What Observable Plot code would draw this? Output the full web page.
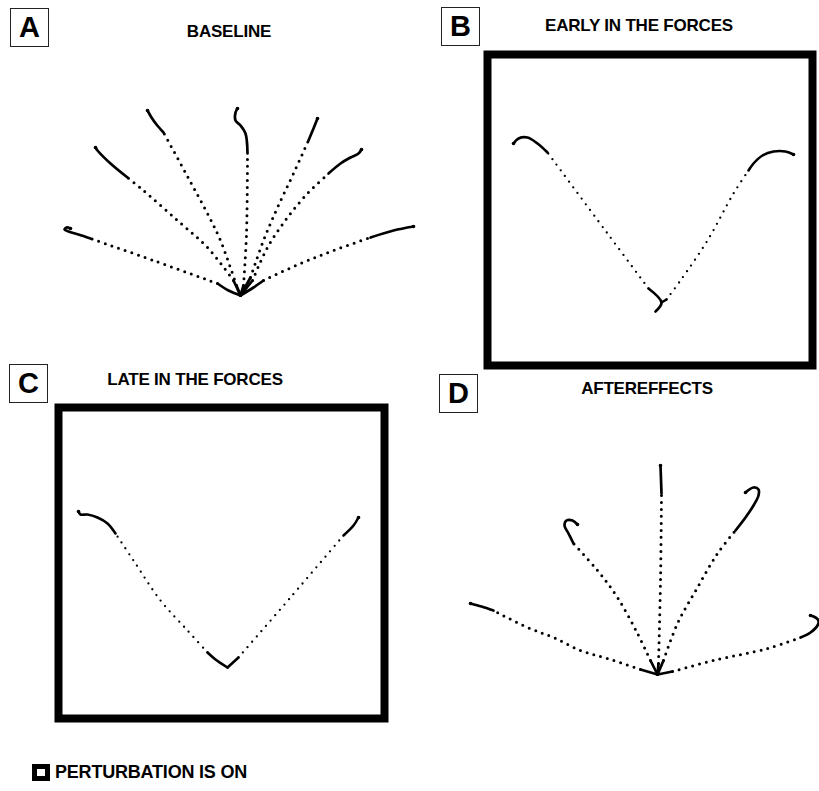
<!DOCTYPE html>
<html>
<head>
<meta charset="utf-8">
<script src="https://cdn.jsdelivr.net/npm/d3@7"></script>
<script src="https://cdn.jsdelivr.net/npm/@observablehq/plot@0.6"></script>
<style>
  html, body { margin: 0; padding: 0; background: #fff; }
  #fig { position: relative; width: 819px; height: 791px; overflow: hidden;
         font-family: "Liberation Sans", Arial, Helvetica, sans-serif; color: #000; }
  .tag { position: absolute; box-sizing: border-box; width: 39px; height: 39px;
         border: 1.5px solid #222; font-weight: bold; font-size: 29px; line-height: 1;
         display: flex; align-items: center; justify-content: center; }
  .title { position: absolute; font-weight: bold; font-size: 17px; line-height: 1;
           transform: translate(-50%, -50%); white-space: nowrap; letter-spacing: -0.2px; }
  .legend { position: absolute; left: 32px; top: 763px; display: flex; align-items: center; }
  .legend .key { box-sizing: content-box; width: 8px; height: 7px; border: 5px solid #000; background: #fff; }
  .legend span { margin-left: 5px; font-weight: bold; font-size: 18px; line-height: 1; letter-spacing: -0.2px; }
</style>
</head>
<body>
<div id="fig"></div>
<script>
// Hand paths in cm from the start position (x to the right, y away from the body).
// Each movement: slow start, fast (sparsely sampled) middle, slow end.

const baselineMoves = [
  { start: [[0, 0], [-0.6, 0.25], [-1.15, 0.6]],
    fast:  [[-1.15, 0.6], [-4.35, 1.75], [-7.5, 2.85]],
    end:   [[-7.5, 2.85], [-8.1, 3.05], [-8.6, 3.2], [-8.8, 3.3], [-8.7, 3.4], [-8.5, 3.35]] },
  { start: [[0, 0], [-0.35, 0.75]],
    fast:  [[-0.35, 0.75], [-1.65, 2.4], [-3.15, 3.75], [-4.85, 5.25], [-5.65, 5.9]],
    end:   [[-5.65, 5.9], [-6.5, 6.6], [-7.15, 7.25], [-7.25, 7.4]] },
  { start: [[0, 0], [-0.2, 0.5]],
    fast:  [[-0.2, 0.5], [-1, 2.75], [-1.65, 4.1], [-2.35, 5.4], [-3, 6.6], [-3.85, 8.15]],
    end:   [[-3.85, 8.15], [-4.2, 8.55], [-4.45, 8.9], [-4.65, 9.25]] },
  { start: [[0, 0], [0.15, 0.5]],
    fast:  [[0.15, 0.5], [0.3, 3.1], [0.35, 7.1]],
    end:   [[0.35, 7.1], [0.25, 8.1], [0, 8.5], [-0.25, 8.75], [-0.25, 9.15], [-0.15, 9.35]] },
  { start: [[0, 0], [0.5, 0.9]],
    fast:  [[0.5, 0.9], [1.15, 2.75], [1.85, 4.4], [2.65, 6.1], [3.4, 7.75]],
    end:   [[3.4, 7.75], [3.65, 8.35], [3.85, 8.85]] },
  { start: [[0, 0], [0.6, 0.75]],
    fast:  [[0.6, 0.75], [1.35, 2.4], [2.35, 3.9], [3.35, 5.1], [4.4, 6.1]],
    end:   [[4.4, 6.1], [5, 6.6], [5.5, 6.9], [5.9, 7.1], [6.05, 7.3]] },
  { start: [[0, 0], [0.65, 0.4], [1.15, 0.75]],
    fast:  [[1.15, 0.75], [3, 1.6], [4.65, 2.25], [6.5, 2.9]],
    end:   [[6.5, 2.9], [7.65, 3.25], [8.65, 3.45]] }
];

const earlyMoves = [
  { start: [[-0.25, -0.4], [0.05, 0.05], [-0.6, 0.75]],
    fast:  [[-0.6, 0.75], [-2.65, 3.5], [-5.65, 7.55]],
    end:   [[-5.65, 7.55], [-6.15, 8], [-6.65, 8.3], [-7.1, 8.25], [-7.35, 8]] },
  { start: [[0.05, 0.05], [0.3, 0.2]],
    fast:  [[0.3, 0.2], [1, 1.15], [2.35, 3.15], [3.65, 5.5], [4.4, 6.65]],
    end:   [[4.4, 6.65], [4.65, 7], [5.1, 7.4], [5.65, 7.6], [6.25, 7.6], [6.65, 7.45]] }
];

const lateMoves = [
  { start: [[0, 0], [-0.6, 0.4], [-1, 0.75]],
    fast:  [[-1, 0.75], [-2, 1.85], [-3.35, 3.35], [-4.7, 5.35], [-5.6, 6.7]],
    end:   [[-5.6, 6.7], [-6, 7.2], [-6.5, 7.5], [-7, 7.65], [-7.35, 7.65], [-7.45, 7.8]] },
  { start: [[0, 0], [0.55, 0.5]],
    fast:  [[0.55, 0.5], [3.15, 3.5], [5.8, 6.6]],
    end:   [[5.8, 6.6], [6.3, 7.1], [6.55, 7.5]] }
];

const afterMoves = [
  { start: [[0, 0], [-0.85, 0.25]],
    fast:  [[-0.85, 0.25], [-2.5, 0.8], [-3.85, 1.2], [-5.2, 1.85], [-6.5, 2.35], [-8.2, 3.2]],
    end:   [[-8.2, 3.2], [-8.8, 3.4], [-9.35, 3.55]] },
  { start: [[0, 0], [-0.35, 0.7]],
    fast:  [[-0.35, 0.7], [-1, 2.05], [-2, 3.85], [-3, 5.2], [-4.2, 6.55]],
    end:   [[-4.2, 6.55], [-4.45, 7.05], [-4.65, 7.45], [-4.55, 7.7], [-4.25, 7.7], [-4, 7.5]] },
  { start: [[0, 0], [0.05, 0.55]],
    fast:  [[0.05, 0.55], [0.15, 4.7], [0.2, 9.05]],
    end:   [[0.2, 9.05], [0.15, 10.45]] },
  { start: [[0, 0], [0.3, 0.7]],
    fast:  [[0.3, 0.7], [1, 2.55], [2, 4.35], [3, 6.05], [3.9, 7.2]],
    end:   [[3.9, 7.2], [4.4, 7.85], [4.8, 8.45], [5.05, 8.95], [5.05, 9.25], [4.8, 9.35], [4.4, 9.1]] },
  { start: [[0, 0], [0.75, 0.15]],
    fast:  [[0.75, 0.15], [2.8, 0.7], [5.5, 1.3], [7.15, 1.85]],
    end:   [[7.15, 1.85], [7.65, 2.1], [8, 2.45], [8.05, 2.7], [7.9, 2.85], [7.65, 2.95]] }
];

const panelTags = ["A", "B", "C", "D"];
const panelTitles = ["BASELINE", "EARLY IN THE FORCES", "LATE IN THE FORCES", "AFTEREFFECTS"];
const perturbationOn = [false, true, true, false];
const legendLabel = "PERTURBATION IS ON";

// page layout of each panel (pixels) and its workspace window (cm)
const layout = [
  { left: 40,  top: 60,  width: 390, height: 280, x: [-10, 9.5],    y: [-2.25, 11.75], tag: [10, 8],   title: [229, 31],  dot: 3,   solid: 2.7 },
  { left: 482, top: 49,  width: 335, height: 321, x: [-8.65, 7.6],  y: [-3.1, 12.45],  tag: [441, 7],  title: [639, 25],  dot: 2.3, solid: 2.6 },
  { left: 53,  top: 402, width: 336, height: 321, x: [-8.45, 7.85], y: [-2.55, 13],    tag: [9, 364],  title: [195, 379], dot: 2.3, solid: 2.6 },
  { left: 440, top: 430, width: 379, height: 290, x: [-10.85, 8.1], y: [-2.3, 12.2],   tag: [439, 374], title: [647, 388], dot: 3,  solid: 2.7 }
];

const panelMoves = [baselineMoves, earlyMoves, lateMoves, afterMoves];

const fig = document.getElementById("fig");

function toRows(moves) {
  return moves.flatMap((m, i) =>
    ["start", "fast", "end"].flatMap(phase =>
      m[phase].map(([x, y]) => ({ id: `${i}-${phase}`, phase, x, y }))));
}

panelMoves.forEach((moves, k) => {
  const L = layout[k];
  const framed = perturbationOn[k];
  const rows = toRows(moves);
  const endpoints = moves.map(m => { const p = m.end[m.end.length - 1]; return { x: p[0], y: p[1] }; });
  const pad = framed ? 5 : 0;

  const chart = Plot.plot({
    width: L.width,
    height: L.height,
    marginTop: pad, marginRight: pad, marginBottom: pad, marginLeft: pad,
    x: { domain: L.x, axis: null },
    y: { domain: L.y, axis: null },
    marks: [
      Plot.line(rows, {
        filter: d => d.phase !== "fast",
        x: "x", y: "y", z: "id",
        stroke: "black", strokeWidth: L.solid,
        strokeLinecap: "round", strokeLinejoin: "round",
        curve: "catmull-rom"
      }),
      Plot.line(rows, {
        filter: d => d.phase === "fast",
        x: "x", y: "y", z: "id",
        stroke: "black", strokeWidth: L.dot,
        strokeDasharray: "0,7", strokeLinecap: "round",
        curve: "catmull-rom"
      }),
      Plot.dot(endpoints, { x: "x", y: "y", r: 1.8, fill: "black" }),
      framed ? Plot.frame({ stroke: "black", strokeWidth: 8 }) : null
    ]
  });
  chart.style.position = "absolute";
  chart.style.left = L.left + "px";
  chart.style.top = L.top + "px";
  chart.style.maxWidth = "none";
  fig.appendChild(chart);

  const tag = document.createElement("div");
  tag.className = "tag";
  tag.style.left = L.tag[0] + "px";
  tag.style.top = L.tag[1] + "px";
  tag.textContent = panelTags[k];
  fig.appendChild(tag);

  const title = document.createElement("div");
  title.className = "title";
  title.style.left = L.title[0] + "px";
  title.style.top = L.title[1] + "px";
  title.textContent = panelTitles[k];
  fig.appendChild(title);
});

const legend = document.createElement("div");
legend.className = "legend";
legend.innerHTML = `<div class="key"></div><span>${legendLabel}</span>`;
fig.appendChild(legend);
</script>
</body>
</html>
